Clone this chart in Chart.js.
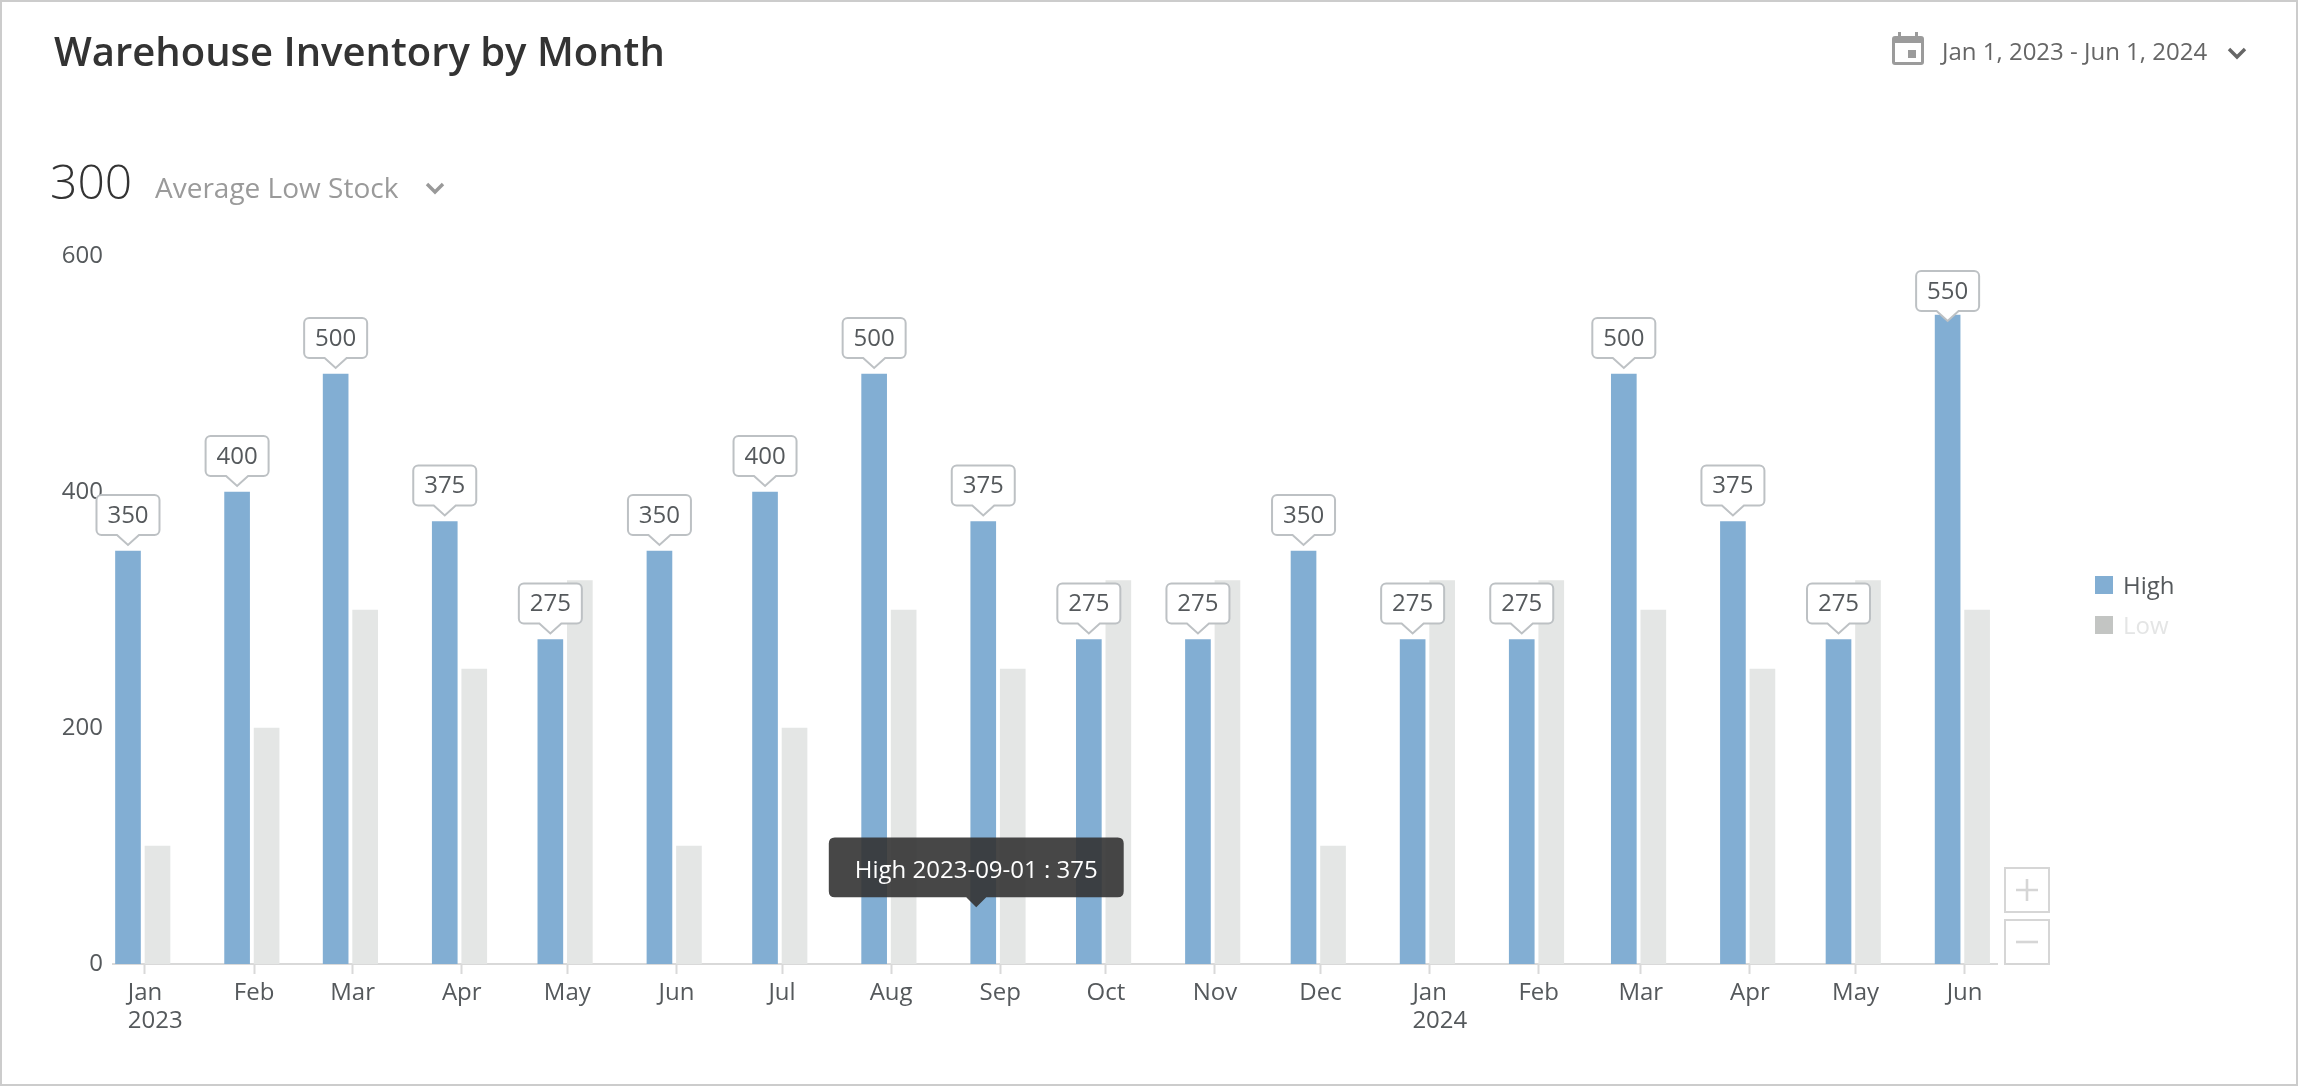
<!DOCTYPE html>
<html>
<head>
<meta charset="utf-8">
<title>Warehouse Inventory by Month</title>
<script src="https://cdn.jsdelivr.net/npm/chart.js@4/dist/chart.umd.min.js"></script>
<style>
  html, body { margin: 0; padding: 0; background: #fff; }
  body { width: 2298px; height: 1086px; position: relative; overflow: hidden; font-family: "Open Sans", sans-serif; }
  #frame { position: absolute; left: 0; top: 0; width: 2294px; height: 1082px; border: 2px solid #ccc; }
  #chart { position: absolute; left: 0; top: 0; }
  .txt { position: absolute; white-space: nowrap; line-height: 1; }
  #title { left: 54px; top: 31px; font-size: 40px; font-weight: 600; color: #333; }
  #range { left: 1942px; top: 39px; font-size: 24px; color: #666; }
  #bigNum { left: 50px; top: 157px; font-size: 48px; font-weight: 300; color: #333; }
  #bigLabel { left: 155px; top: 173px; font-size: 28px; font-weight: 400; color: #9a9a9a; }
  svg.icon { position: absolute; }
  #legend { position: absolute; left: 2095px; top: 576px; }
  .legendItem { position: relative; height: 18px; margin-bottom: 22px; }
  .legendItem i { position: absolute; left: 0; top: 0; width: 18px; height: 18px; }
  .legendItem span { position: absolute; left: 28px; top: -3px; font-size: 24px; line-height: 24px; }
  .zoomBtn { position: absolute; left: 2004px; width: 42px; height: 42px; border: 2px solid #d6d6d6; }
</style>
</head>
<body>
<div id="frame"></div>
<canvas id="chart" width="2298" height="1086"></canvas>

<div class="txt" id="title">Warehouse Inventory by Month</div>

<svg class="icon" style="left:1892px;top:31px" width="32" height="34" viewBox="0 0 32 34">
  <path fill="#9b9b9b" d="M6 1h3v4h14V1h3v4h3a3 3 0 0 1 3 3v23a3 3 0 0 1-3 3H3a3 3 0 0 1-3-3V8a3 3 0 0 1 3-3h3zM3 12v19h26V12zM16 19h8v8h-8z"/>
</svg>
<div class="txt" id="range">Jan 1, 2023 - Jun 1, 2024</div>
<svg class="icon" style="left:2227px;top:46px" width="20" height="14" viewBox="0 0 20 14">
  <path fill="none" stroke="#666" stroke-width="3.4" d="M2 3l8 8 8-8"/>
</svg>

<div class="txt" id="bigNum">300</div>
<div class="txt" id="bigLabel">Average Low Stock</div>
<svg class="icon" style="left:425px;top:181px" width="20" height="14" viewBox="0 0 20 14">
  <path fill="none" stroke="#999" stroke-width="3.4" d="M2 3l8 8 8-8"/>
</svg>

<div id="legend"></div>

<div class="zoomBtn" style="top:867px">
  <svg width="42" height="42" viewBox="0 0 42 42"><path stroke="#d6d6d6" stroke-width="2.6" d="M10 21h22M21 10v22"/></svg>
</div>
<div class="zoomBtn" style="top:919px">
  <svg width="42" height="42" viewBox="0 0 42 42"><path stroke="#d6d6d6" stroke-width="2.6" d="M10 21h22"/></svg>
</div>

<script>
const monthNames = ["Jan", "Feb", "Mar", "Apr", "May", "Jun", "Jul", "Aug", "Sep", "Oct", "Nov", "Dec", "Jan", "Feb", "Mar", "Apr", "May", "Jun"];
const monthDates = [
  "2023-01-01", "2023-02-01", "2023-03-01", "2023-04-01", "2023-05-01", "2023-06-01",
  "2023-07-01", "2023-08-01", "2023-09-01", "2023-10-01", "2023-11-01", "2023-12-01",
  "2024-01-01", "2024-02-01", "2024-03-01", "2024-04-01", "2024-05-01", "2024-06-01",
];
const yearLabels = ["2023", "", "", "", "", "", "", "", "", "", "", "", "2024", "", "", "", "", ""];
const highValues = [350, 400, 500, 375, 275, 350, 400, 500, 375, 275, 275, 350, 275, 275, 500, 375, 275, 550];
const lowValues = [100, 200, 300, 250, 325, 100, 200, 300, 250, 325, 325, 100, 325, 325, 300, 250, 325, 300];
const yTickValues = [0, 200, 400, 600];

const FONT = '"Open Sans", sans-serif';
const TEXT_COLOR = "#55595c";
const AXIS_COLOR = "#d9d9d9";
const HIGH_COLOR = "#82aed3";
const LOW_COLOR = "#e4e6e5";

function toDay(date) {
  return Date.parse(date) / 86400000;
}

const monthDays = monthDates.map(toDay);
const xMin = monthDays[0] - 9.09;
const xMax = monthDays[monthDays.length - 1] + 9.2;
// bars sit a bit left of their tick, the way the original widget draws them
const barShift = 0.64;

const legendItems = [
  { label: "High", swatch: HIGH_COLOR, text: TEXT_COLOR },
  { label: "Low", swatch: "#c3c5c3", text: "#e4e5e5" },
];
legendItems.forEach((item) => {
  const row = document.createElement("div");
  row.className = "legendItem";
  row.innerHTML = `<i style="background:${item.swatch}"></i><span style="color:${item.text}">${item.label}</span>`;
  document.getElementById("legend").appendChild(row);
});

function drawCallout(ctx, x, top, text) {
  const w = 63, h = 40, r = 5, arrow = 11, tip = 10;
  const left = x - w / 2, right = x + w / 2, bottom = top + h;
  ctx.beginPath();
  ctx.moveTo(left + r, top);
  ctx.arcTo(right, top, right, bottom, r);
  ctx.arcTo(right, bottom, left, bottom, r);
  ctx.lineTo(x + arrow, bottom);
  ctx.lineTo(x, bottom + tip);
  ctx.lineTo(x - arrow, bottom);
  ctx.arcTo(left, bottom, left, top, r);
  ctx.arcTo(left, top, right, top, r);
  ctx.closePath();
  ctx.fillStyle = "#fff";
  ctx.fill();
  ctx.lineWidth = 2;
  ctx.strokeStyle = "#bdc1c4";
  ctx.stroke();
  ctx.fillStyle = TEXT_COLOR;
  ctx.font = `24px ${FONT}`;
  ctx.textAlign = "center";
  ctx.textBaseline = "middle";
  ctx.fillText(text, x, top + h / 2 + 1);
}

const highCallouts = {
  id: "highCallouts",
  afterDatasetsDraw(chart) {
    const ctx = chart.ctx;
    const bars = chart.getDatasetMeta(0).data;
    ctx.save();
    bars.forEach((bar, i) => {
      drawCallout(ctx, bar.x, Math.max(bar.y - 56, 271), String(highValues[i]));
    });
    ctx.restore();
  },
};

// years go under the January labels, left aligned with them
const yearTicks = {
  id: "yearTicks",
  afterDraw(chart) {
    const ctx = chart.ctx;
    const scale = chart.scales.x;
    ctx.save();
    ctx.font = `24px ${FONT}`;
    ctx.fillStyle = TEXT_COLOR;
    ctx.textBaseline = "middle";
    ctx.textAlign = "left";
    yearLabels.forEach((year, i) => {
      if (!year) return;
      const x = scale.getPixelForValue(monthDays[i]) - ctx.measureText(monthNames[i]).width / 2;
      ctx.fillText(year, x, scale.top + 57);
    });
    ctx.restore();
  },
};

Chart.Tooltip.positioners.hoverPoint = function (items) {
  if (!items.length) return false;
  return { x: items[0].element.x - 7, y: this.chart.scales.y.getPixelForValue(48) };
};

const chart = new Chart(document.getElementById("chart"), {
  type: "bar",
  plugins: [highCallouts, yearTicks],
  data: {
    datasets: [
      {
        label: "High",
        data: monthDays.map((day, i) => ({ x: day, y: highValues[i] })),
        backgroundColor: HIGH_COLOR,
        xAxisID: "xBars",
      },
      {
        label: "Low",
        data: monthDays.map((day, i) => ({ x: day, y: lowValues[i] })),
        backgroundColor: LOW_COLOR,
        xAxisID: "xBars",
      },
    ],
  },
  options: {
    responsive: false,
    animation: false,
    events: [],
    barThickness: 29.5,
    maxBarThickness: 25,
    layout: { padding: { left: 0, top: 256, right: 301, bottom: 0 } },
    scales: {
      xBars: {
        type: "linear",
        axis: "x",
        display: false,
        offset: false,
        grid: { offset: false },
        min: xMin + barShift,
        max: xMax + barShift,
      },
      x: {
        type: "linear",
        position: "bottom",
        offset: false,
        min: xMin,
        max: xMax,
        grid: { offset: false, drawOnChartArea: false, drawTicks: true, tickLength: 10, tickWidth: 2, tickColor: AXIS_COLOR },
        border: { color: AXIS_COLOR, width: 2 },
        afterBuildTicks(scale) {
          scale.ticks = monthDays.map((day) => ({ value: day }));
        },
        afterFit(scale) {
          scale.height = 1086 - 964;
        },
        ticks: {
          autoSkip: false,
          maxRotation: 0,
          padding: 5,
          color: TEXT_COLOR,
          font: { family: FONT, size: 24 },
          callback: (value, index) => monthNames[index],
        },
      },
      y: {
        min: 0,
        max: 600,
        grid: { display: false },
        border: { display: false },
        afterBuildTicks(scale) {
          scale.ticks = yTickValues.map((v) => ({ value: v }));
        },
        afterFit(scale) {
          scale.width = 113;
        },
        ticks: {
          padding: 2,
          color: TEXT_COLOR,
          font: { family: FONT, size: 24 },
        },
      },
    },
    plugins: {
      legend: { display: false },
      tooltip: {
        enabled: true,
        position: "hoverPoint",
        xAlign: "center",
        yAlign: "bottom",
        displayColors: false,
        backgroundColor: "rgba(51, 51, 51, 0.9)",
        bodyColor: "#fff",
        bodyFont: { family: FONT, size: 24 },
        padding: { left: 26, right: 26, top: 19, bottom: 12 },
        cornerRadius: 6,
        caretSize: 10,
        caretPadding: 0,
        callbacks: {
          title: () => "",
          label: (item) => `${item.dataset.label} ${monthDates[item.dataIndex]} : ${item.raw.y}`,
        },
      },
    },
  },
});

chart.tooltip.setActiveElements([{ datasetIndex: 0, index: 8 }], { x: 0, y: 0 });
chart.update();
</script>
</body>
</html>
